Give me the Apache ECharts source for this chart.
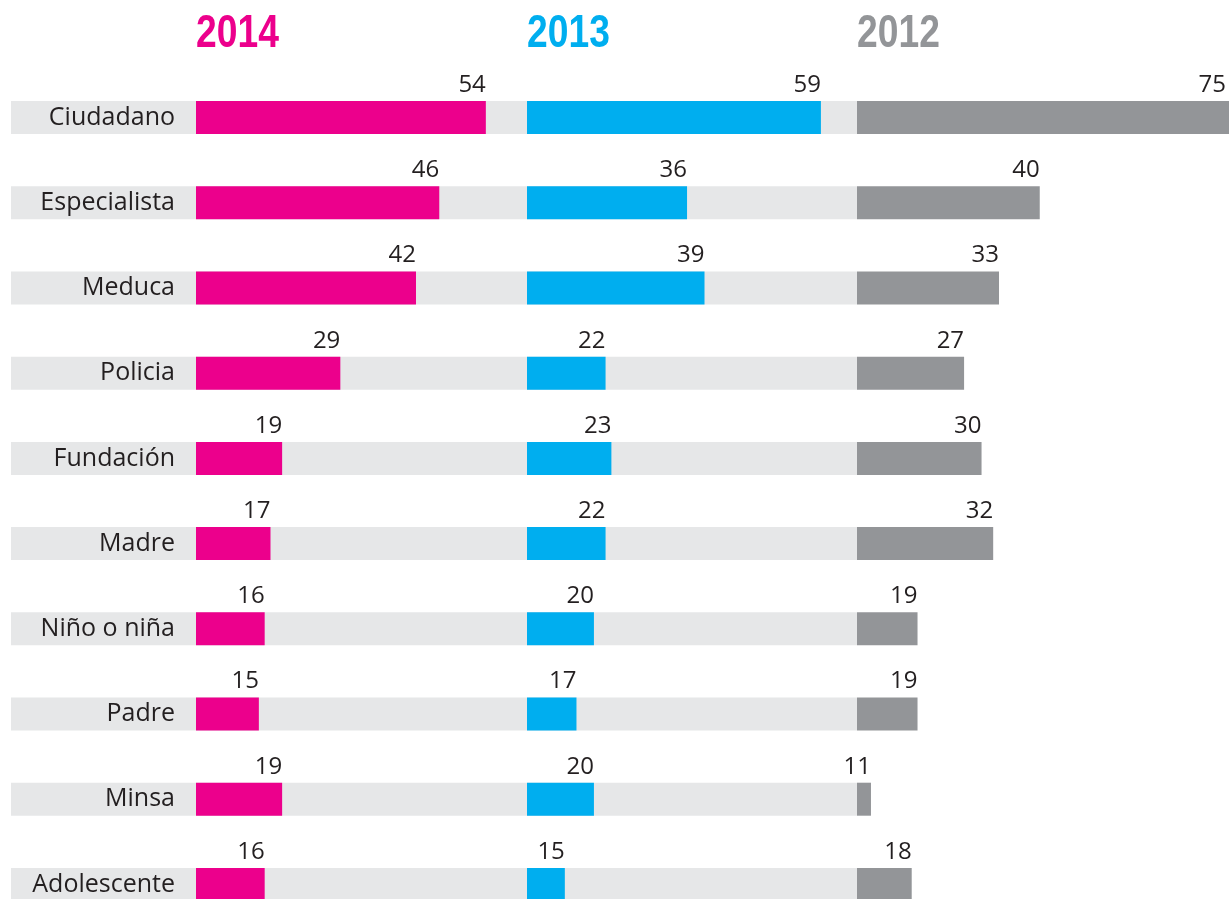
<!DOCTYPE html>
<html>
<head>
<meta charset="utf-8">
<script src="https://cdn.jsdelivr.net/npm/echarts@6/dist/echarts.min.js"></script>
<style>
  html, body { margin: 0; padding: 0; background: #fff; }
  #chart { width: 1229px; height: 899px; }
</style>
</head>
<body>
<div id="chart"></div>
<script>
var categories = ['Ciudadano', 'Especialista', 'Meduca', 'Policia', 'Fundación', 'Madre', 'Niño o niña', 'Padre', 'Minsa', 'Adolescente'];
var years = ['2014', '2013', '2012'];
var values2014 = [54, 46, 42, 29, 19, 17, 16, 15, 19, 16];
var values2013 = [59, 36, 39, 22, 23, 22, 20, 17, 20, 15];
var values2012 = [75, 40, 33, 27, 30, 32, 19, 19, 11, 18];
var stripValues = categories.map(function () { return 1; });

var colors = ['#ec008c', '#00aeef', '#939598'];
var pxPerUnit = 5.82;
var gridTop = 75, gridHeight = 852;
var titleFont = "bold 46px 'Liberation Sans', Arial, sans-serif";
var textFont = "'Open Sans', sans-serif";

// panel axis ranges (the bars start a few units in, as in the original)
var panels = [
    { left: 196, min: 4.2, max: 60, data: values2014 },
    { left: 527, min: 8.5, max: 60, data: values2013 },
    { left: 857, min: 8.6, max: 80, data: values2012 }
];

var grids = [{ left: 11, top: gridTop, width: 846, height: gridHeight, outerBoundsMode: 'none' }];
var xAxes = [{ type: 'value', gridIndex: 0, min: 0, max: 1, show: false }];
var yAxes = [{ type: 'category', gridIndex: 0, data: categories, inverse: true, show: false }];
var series = [{
    type: 'bar', xAxisIndex: 0, yAxisIndex: 0, data: stripValues,
    barWidth: 33, z: 1, silent: true,
    itemStyle: { color: '#e6e7e8' }
}];
var titles = [];

var myChart = echarts.init(document.getElementById('chart'));

panels.forEach(function (p, i) {
    var g = i + 1;
    grids.push({
        left: p.left, top: gridTop, width: (p.max - p.min) * pxPerUnit, height: gridHeight,
        outerBoundsMode: 'none'
    });
    xAxes.push({ type: 'value', gridIndex: g, min: p.min, max: p.max, show: false });
    yAxes.push({
        type: 'category', gridIndex: g, data: categories, inverse: true,
        show: i === 0, z: 5,
        axisLine: { show: false }, axisTick: { show: false },
        axisLabel: { margin: 21, color: '#231f20', fontSize: 25, fontFamily: textFont }
    });
    series.push({
        type: 'bar', name: years[i], xAxisIndex: g, yAxisIndex: g,
        data: p.data, barWidth: 33, z: 3, clip: true,
        itemStyle: { color: colors[i] },
        label: {
            show: true, position: ['100%', 0], align: 'right', verticalAlign: 'bottom',
            color: '#231f20', fontSize: 24, fontFamily: textFont
        },
        // lift labels above the bar end; keep labels of bars running off the page inside it
        labelLayout: function (params) {
            var w = myChart.getWidth();
            var r = params.labelRect;
            var right = Math.min(r.x + r.width, w - 3);
            return { x: right, y: r.y + r.height - 4, align: 'right', verticalAlign: 'bottom' };
        }
    });
    // condensed look: squeeze a bold face horizontally
    titles.push({
        type: 'text', x: p.left, y: 11, scaleX: 0.81, originX: 0,
        style: { text: years[i], fill: colors[i], font: titleFont, verticalAlign: 'top' }
    });
});

myChart.setOption({
    animation: false,
    graphic: titles,
    grid: grids,
    xAxis: xAxes,
    yAxis: yAxes,
    series: series
});
</script>
</body>
</html>
